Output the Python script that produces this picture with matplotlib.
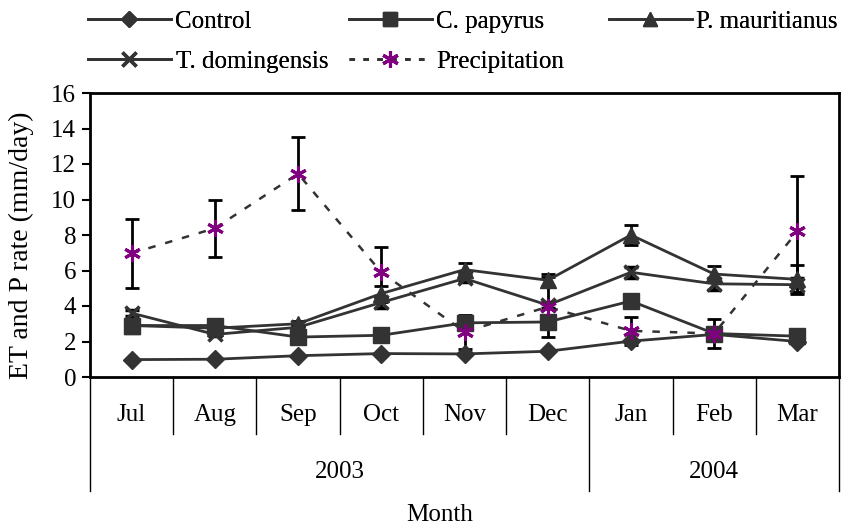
import numpy as np
import matplotlib.pyplot as plt
from matplotlib.lines import Line2D

plt.rcParams["font.family"] = ["Liberation Serif", "DejaVu Serif"]

months = ["Jul", "Aug", "Sep", "Oct", "Nov", "Dec", "Jan", "Feb", "Mar"]
years = ["2003", "2004"]
year_spans = [(0, 5), (6, 8)]

control = [0.98, 1.0, 1.2, 1.32, 1.3, 1.45, 2.02, 2.4, 2.0]
papyrus = [2.9, 2.9, 2.25, 2.35, 3.05, 3.1, 4.28, 2.45, 2.3]
mauritianus = [2.9, 2.75, 3.0, 4.7, 6.05, 5.45, 8.0, 5.8, 5.5]
domingensis = [3.6, 2.4, 2.8, 4.2, 5.55, 4.05, 5.9, 5.25, 5.2]
precip = [6.97, 8.38, 11.45, 5.9, 2.55, 3.95, 2.6, 2.45, 8.2]

papyrus_err = [0.1, 0.1, 0.1, 0.1, 0.35, 0.2, 0.2, 0.15, 0.1]
mauritianus_err = [0.1, 0.1, 0.15, 0.45, 0.4, 0.35, 0.55, 0.45, 0.8]
domingensis_err = [0.15, 0.1, 0.1, 0.3, 0.2, 0.15, 0.3, 0.35, 0.4]
precip_err = [1.95, 1.6, 2.05, 1.4, 0.95, 1.7, 0.8, 0.8, 3.15]

DARK = "#333333"
PURPLE = "#800080"
FS = 18

fig = plt.figure(figsize=(8.41, 5.29), dpi=100)
ax = fig.add_axes([90 / 841, 1 - 377 / 529, 749 / 841, 284 / 529])
x = np.arange(len(months))

err_kw = dict(ecolor="black", elinewidth=2, capsize=5, capthick=2)
star = (6, 2, 0)

ax.errorbar(x, precip, yerr=precip_err, color=DARK, lw=1.8, ls=(0, (3, 4)),
            marker="none", zorder=2, **err_kw)
ax.errorbar(x, domingensis, yerr=domingensis_err, color=DARK, lw=2, marker="x",
            ms=10, mew=2.5, zorder=3, **err_kw)
ax.errorbar(x, mauritianus, yerr=mauritianus_err, color=DARK, lw=2, marker="^",
            ms=11, zorder=3, **err_kw)
ax.errorbar(x, papyrus, yerr=papyrus_err, color=DARK, lw=2, marker="s",
            ms=11, zorder=3, **err_kw)
ax.plot(x, control, color=DARK, lw=2, marker="D", ms=9, zorder=3)
# precipitation markers drawn on top
ax.plot(x, precip, ls="none", marker=star, ms=12, mec=PURPLE, mew=2.2, zorder=5)

ax.set_xlim(-0.5, len(months) - 0.5)
ax.set_ylim(0, 16)
ax.set_yticks(np.arange(0, 17, 2))
ax.tick_params(axis="y", direction="out", length=6, width=1.5, labelsize=FS, pad=4)
ax.tick_params(axis="x", bottom=False, labelbottom=False)
for s in ax.spines.values():
    s.set_linewidth(2)
ax.set_ylabel("ET and P rate (mm/day)", fontsize=20)
ax.yaxis.set_label_coords(-0.075, 0.465)

# category table below the axes
trans = ax.get_xaxis_transform()
row1 = -0.20
row2 = -0.40
for i in range(len(months) + 1):
    b = i - 0.5
    low = row2 if i in (0, 6, len(months)) else row1
    ax.plot([b, b], [0, low], color="black", lw=1, transform=trans, clip_on=False)
for i, m in enumerate(months):
    ax.text(i, -0.134, m, ha="center", va="center", fontsize=FS, transform=trans)
for yr, (a, b) in zip(years, year_spans):
    ax.text((a + b) / 2, -0.335, yr, ha="center", va="center",
            fontsize=FS, transform=trans)
fig.text(440 / 841, 1 - 515 / 529, "Month", ha="center", va="center", fontsize=FS)

# legend: three fixed-width columns, filled row by row
h_control = Line2D([], [], color=DARK, lw=2, marker="D", ms=8)
h_dom = Line2D([], [], color=DARK, lw=2, marker="x", ms=10, mew=2.5)
h_pap = Line2D([], [], color=DARK, lw=2, marker="s", ms=10)
h_pre = Line2D([], [], color=DARK, lw=2, ls=(0, (2, 3)), marker=star, ms=12,
               mec=PURPLE, mew=2.2)
h_mau = Line2D([], [], color=DARK, lw=2, marker="^", ms=10)
columns = [
    ([h_control, h_dom], ["Control", "T. domingensis"], 88),
    ([h_pap, h_pre], ["C. papyrus", "Precipitation"], 349),
    ([h_mau], ["P. mauritianus"], 609),
]
for hs, ls, x0 in columns:
    leg = fig.legend(hs, ls, loc="upper left", bbox_to_anchor=(x0 / 841, 0.98),
                     frameon=False, fontsize=FS, handlelength=3.3, handletextpad=0.2,
                     labelspacing=0.7, borderaxespad=0, borderpad=0)
    fig.add_artist(leg)

fig.savefig("out.png", dpi=100)
